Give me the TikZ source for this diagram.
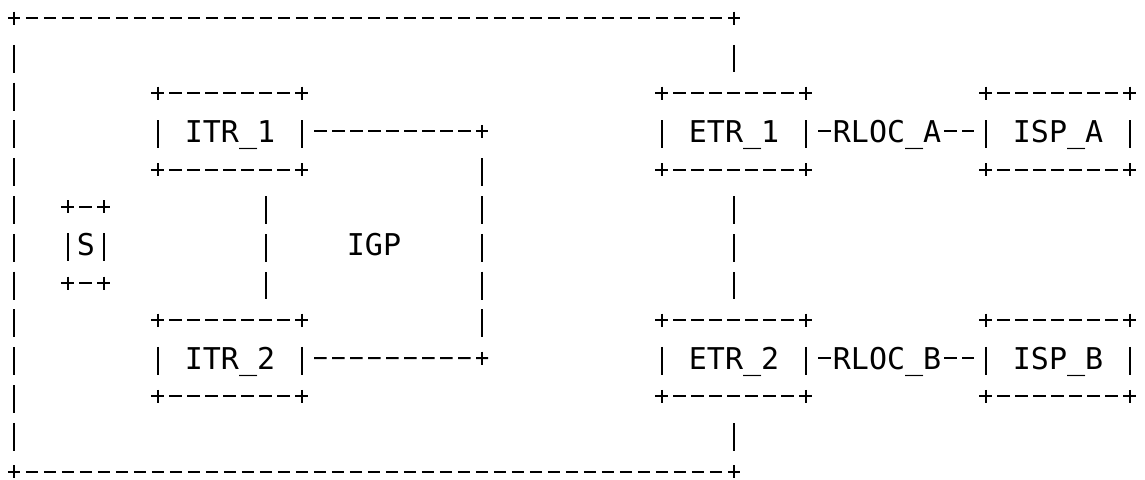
\documentclass[tikz,border=0pt]{standalone}
\usepackage{fontspec}
\newfontfamily\asciifont{DejaVu Sans Mono}

\begin{document}
\begin{tikzpicture}[x=9pt, y=-18.9pt, node distance=113.4pt]

\tikzstyle{hrun} = [line width=1pt, dash pattern=on 6.2pt off 2.8pt, shorten <=-3.1pt, shorten >=-3.1pt]
\tikzstyle{hlink} = [hrun, shorten <=5.9pt]
\tikzstyle{rloc} = [hrun, shorten <=5.9pt, shorten >=5.9pt]
\tikzstyle{vrun} = [line width=1pt, dash pattern=on 14pt off 4.9pt, shorten <=13.4pt, shorten >=10.4pt]
\tikzstyle{arm} = [line width=1pt]
\tikzstyle{txt} = [inner sep=0pt, text height=10.9pt, text depth=0pt, font=\asciifont\fontsize{15pt}{18pt}\selectfont]
\tikzstyle{box} = [txt, rectangle, minimum width=72pt, minimum height=37.8pt, text centered,
  append after command={
    (\tikzlastnode.north west) edge[hrun] (\tikzlastnode.north east)
    (\tikzlastnode.south west) edge[hrun] (\tikzlastnode.south east)
    (\tikzlastnode.north west) edge[vrun] (\tikzlastnode.south west)
    (\tikzlastnode.north east) edge[vrun] (\tikzlastnode.south east)
    ([yshift=3.25pt]\tikzlastnode.north west) edge[arm] ([yshift=-3.25pt]\tikzlastnode.north west)
    ([yshift=3.25pt]\tikzlastnode.north east) edge[arm] ([yshift=-3.25pt]\tikzlastnode.north east)
    ([yshift=3.25pt]\tikzlastnode.south west) edge[arm] ([yshift=-3.25pt]\tikzlastnode.south west)
    ([yshift=3.25pt]\tikzlastnode.south east) edge[arm] ([yshift=-3.25pt]\tikzlastnode.south east)}]
\tikzstyle{joint} = [append after command={([yshift=3.25pt]\tikzlastnode) edge[arm] ([yshift=-3.25pt]\tikzlastnode)}]
\tikzstyle{lbl} = [txt, fill=white, minimum width=54pt]

\useasboundingbox (-0.778,-0.476) rectangle (62.83,12.196);

\node (ITR1) [box] at (12,3) {ITR\_1};
\node (ITR2) [box, below of=ITR1] {ITR\_2};
\node (ETR1) [box, right of=ITR1, node distance=252pt] {ETR\_1};
\node (ETR2) [box, below of=ETR1] {ETR\_2};
\node (ISPA) [box, right of=ETR1, node distance=162pt] {ISP\_A};
\node (ISPB) [box, below of=ISPA] {ISP\_B};
\node (S) [box, minimum width=18pt] at (4,6) {S};
\node (IGP) [txt] at (20,6) {IGP};

\coordinate[joint] (tl) at (0,0);
\coordinate[joint] (tr) at (40,0);
\coordinate[joint] (bl) at (0,12);
\coordinate[joint] (br) at (40,12);
\coordinate[joint] (igpA) at (26,3);
\coordinate[joint] (igpB) at (26,9);

% site border
\draw[hrun] (tl) -- (tr);
\draw[hrun] (bl) -- (br);
\draw[vrun] (tl) -- (bl);
\draw[vrun] (tr) -- (ETR1.north);
\draw[vrun] (ETR1.south) -- (ETR2.north);
\draw[vrun] (ETR2.south) -- (br);

% inside the site
\draw[vrun] ([xshift=18pt]ITR1.south) -- ([xshift=18pt]ITR2.north);
\draw[hlink] (ITR1.east) -- (igpA);
\draw[hlink] (ITR2.east) -- (igpB);
\draw[vrun] (igpA) -- (igpB);

% uplinks
\draw[rloc] (ETR1.east) -- (ISPA.west) node[lbl, pos=0.45] {RLOC\_A};
\draw[rloc] (ETR2.east) -- (ISPB.west) node[lbl, pos=0.45] {RLOC\_B};
\end{tikzpicture}
\end{document}
